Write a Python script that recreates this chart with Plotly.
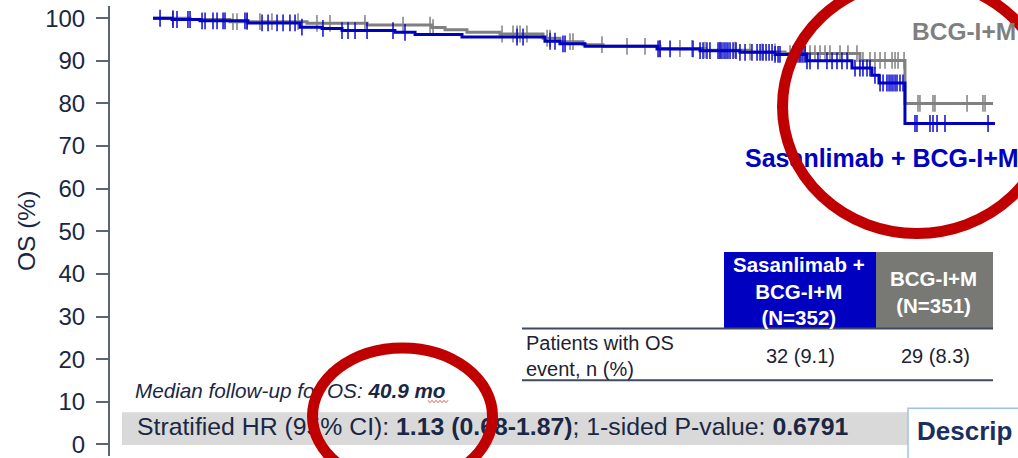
import plotly.graph_objects as go

# ---------------- data ----------------
# Kaplan-Meier steps: time (months) and overall survival (%)
months_sas = [0, 1.27, 3.13, 6.33, 9.8, 11.27, 12.6, 16.13, 17.47, 20.6, 26.13, 27.13,
              28.8, 33.6, 36.47, 39.13, 41.47, 43.6, 46.6, 47.93, 48.4, 50.13, 56.13]
os_sas = [100, 99.7, 99.4, 98.9, 97.9, 97.6, 97.1, 96.7, 96.2, 95.6, 94.6, 94.0,
          93.4, 92.8, 92.4, 92.0, 91.5, 90.0, 88.3, 86.6, 84.8, 75.3, 75.3]

months_bcg = [0, 2.47, 5.13, 10.27, 14.27, 18.6, 19.47, 20.93, 23.13, 26.0, 27.13,
              28.67, 30.0, 33.8, 36.8, 39.8, 42.13, 47.13, 50.13, 56.0]
os_bcg = [100, 99.7, 99.2, 98.8, 98.4, 97.8, 97.3, 96.7, 96.3, 95.3, 94.5,
          93.8, 93.4, 92.9, 92.5, 92.1, 91.7, 90.1, 80.0, 80.0]

# censoring times (months)
cens_sas = [0.47, 1.33, 1.6, 2.33, 2.47, 3.27, 3.47, 4.0, 4.27, 4.67, 4.8, 6.13, 6.27,
            7.27, 7.67, 8.27, 8.67, 9.13, 9.47, 9.93, 11.33, 12.6, 13.0, 13.47, 14.27,
            16.0, 16.8, 24.27, 24.67, 26.47, 26.8, 27.33, 27.47, 33.67, 33.8, 34.47,
            36.0, 36.47, 36.67, 36.93, 37.13, 37.67, 37.8, 37.93, 38.07, 38.2, 38.33,
            38.47, 38.67, 38.87, 39.13, 39.47, 39.93, 40.27, 40.47, 40.67, 40.87, 41.07,
            41.27, 41.47, 41.67, 41.8, 42.67, 42.8, 42.93, 43.07, 43.2, 43.33, 43.47,
            43.6, 43.8, 44.33, 44.93, 45.27, 45.6, 45.93, 46.27, 46.8, 47.13, 47.33,
            47.6, 47.8, 48.13, 48.47, 48.67, 48.93, 49.07, 49.2, 49.33, 49.47, 49.6,
            49.8, 50.0, 50.8, 50.93, 51.8, 52.0, 52.27, 52.8, 55.67]
cens_bcg = [1.33, 5.33, 5.6, 6.27, 7.13, 7.93, 9.67, 10.93, 11.8, 14.13, 16.67, 18.47,
            18.67, 23.27, 24.0, 24.27, 24.47, 24.93, 26.27, 26.47, 27.8, 28.0, 29.93,
            31.6, 32.8, 33.8, 35.13, 35.93, 36.8, 37.8, 38.8, 39.8, 40.6, 41.47, 42.47,
            42.8, 43.13, 43.47, 43.8, 44.13, 44.47, 44.8, 45.13, 45.8, 46.33, 46.93,
            47.33, 47.8, 48.13, 48.47, 48.8, 49.27, 49.47, 49.67, 50.07, 51.0, 51.13,
            52.0, 52.13, 54.27, 55.33, 55.47]

y_ticks = [0, 10, 20, 30, 40, 50, 60, 70, 80, 90, 100]

arm_names = ["Sasanlimab + BCG-I+M", "BCG-I+M"]
arm_n = [352, 351]
os_events = [32, 29]
os_event_pct = [9.1, 8.3]
hr, hr_lo, hr_hi, p_one_sided = 1.13, 0.68, 1.87, 0.6791
median_fu = 40.9

# ---------------- styling ----------------
BLUE = "#0000C0"
GRAY = "#808080"
NAVY = "#1A2744"
RED = "#C00000"
FONT = "Arial, Liberation Sans, sans-serif"

FIG_W, FIG_H = 1018, 458
M_L, M_T = 110, 6
PLOT_W, PLOT_H = FIG_W - M_L, FIG_H - M_T
X0_PX, X_SCALE = 153, 15.0      # pixel of month 0, pixels per month
Y0_PX, Y_SCALE = 446.3, 4.28    # pixel of 0 %, pixels per percent


def px(x):
    return (x - M_L) / PLOT_W


def py(y):
    return (FIG_H - y) / PLOT_H


def dx(x):
    return (x - X0_PX) / X_SCALE


def dy(y):
    return (Y0_PX - y) / Y_SCALE


def km_at(ts, ss, t):
    v = ss[0]
    for ti, si in zip(ts, ss):
        if ti <= t:
            v = si
        else:
            break
    return v


fig = go.Figure()

# survival curves
fig.add_trace(go.Scatter(x=months_bcg, y=os_bcg, mode="lines", line_shape="hv",
                         line=dict(color=GRAY, width=3), hoverinfo="skip"))
fig.add_trace(go.Scatter(x=cens_bcg, y=[km_at(months_bcg, os_bcg, t) for t in cens_bcg],
                         mode="markers", hoverinfo="skip",
                         marker=dict(symbol="line-ns", size=12,
                                     line=dict(color=GRAY, width=1.5))))
fig.add_trace(go.Scatter(x=months_sas, y=os_sas, mode="lines", line_shape="hv",
                         line=dict(color=BLUE, width=3), hoverinfo="skip"))
fig.add_trace(go.Scatter(x=cens_sas, y=[km_at(months_sas, os_sas, t) for t in cens_sas],
                         mode="markers", hoverinfo="skip",
                         marker=dict(symbol="line-ns", size=12,
                                     line=dict(color="rgba(0,0,205,0.9)", width=1.6))))

# texts that sit underneath the highlight ellipses
fig.add_trace(go.Scatter(
    x=[dx(745)], y=[dy(161)], mode="text", textposition="middle right",
    text=[f"<b>{arm_names[0]}</b>"], hoverinfo="skip",
    textfont=dict(family=FONT, size=25, color=BLUE), cliponaxis=False))
fig.add_trace(go.Scatter(
    x=[dx(135)], y=[dy(395)], mode="text", textposition="middle right",
    text=[f"<i>Median follow-up for OS: <b>{median_fu} mo</b></i>"], hoverinfo="skip",
    textfont=dict(family=FONT, size=20.7, color=NAVY), cliponaxis=False))
fig.add_trace(go.Scatter(
    x=[dx(137)], y=[dy(431)], mode="text", textposition="middle right",
    text=[f"Stratified HR (95% CI): <b>{hr:.2f} ({hr_lo:.2f}-{hr_hi:.2f})</b>; "
          f"1-sided P-value: <b>{p_one_sided}</b>"], hoverinfo="skip",
    textfont=dict(family=FONT, size=24.8, color=NAVY), cliponaxis=False))

shapes = []
# HR band and the partially visible box at the lower right
shapes.append(dict(type="rect", xref="paper", yref="paper", layer="below",
                   x0=px(122), x1=px(1018), y0=py(447), y1=py(414),
                   fillcolor="#D9D9D9", line=dict(width=0)))
shapes.append(dict(type="rect", xref="paper", yref="paper", layer="below",
                   x0=px(908), x1=px(1030), y0=py(470), y1=py(410),
                   fillcolor="white", line=dict(color="#9DC3E6", width=1.5)))

# event table
shapes.append(dict(type="rect", xref="paper", yref="paper", layer="below",
                   x0=px(724), x1=px(876), y0=py(330), y1=py(253),
                   fillcolor=BLUE, line=dict(width=0)))
shapes.append(dict(type="rect", xref="paper", yref="paper", layer="below",
                   x0=px(876), x1=px(993), y0=py(330), y1=py(253),
                   fillcolor="#787874", line=dict(width=0)))
for yline in (330, 382):
    shapes.append(dict(type="line", xref="paper", yref="paper", layer="below",
                       x0=px(522), x1=px(993), y0=py(yline), y1=py(yline),
                       line=dict(color="#3E4A60", width=2)))

# spell-check squiggle under the follow-up value
sq = []
for i in range(11):
    xx = 428 + i * 2
    yy = 402 if i % 2 == 0 else 404.5
    sq.append(f"{'M' if i == 0 else 'L'} {px(xx):.5f} {py(yy):.5f}")
shapes.append(dict(type="path", xref="paper", yref="paper", layer="above",
                   path=" ".join(sq), line=dict(color="#E06666", width=1)))

# highlight ellipses
shapes.append(dict(type="circle", xref="paper", yref="paper", layer="above",
                   x0=px(917 - 134.5), x1=px(917 + 134.5),
                   y0=py(107 + 127.5), y1=py(107 - 127.5),
                   line=dict(color=RED, width=11)))
shapes.append(dict(type="circle", xref="paper", yref="paper", layer="above",
                   x0=px(402.5 - 90), x1=px(402.5 + 90),
                   y0=py(418 + 68.5), y1=py(418 - 68.5),
                   line=dict(color=RED, width=11)))

annotations = []


def ann(text, x, y, size, color, xanchor="left", bold=False, align="left"):
    annotations.append(dict(
        text=f"<b>{text}</b>" if bold else text, xref="paper", yref="paper",
        x=px(x), y=py(y), xanchor=xanchor, yanchor="middle", showarrow=False,
        align=align, font=dict(family=FONT, size=size, color=color)))


ann(arm_names[1], 1018, 32, 24.5, "#7F7F7F", xanchor="right", bold=True)
ann(f"Sasanlimab +<br>BCG-I+M<br>(N={arm_n[0]})", 799, 292.5, 20.5, "white",
    xanchor="center", bold=True, align="center")
ann(f"{arm_names[1]}<br>(N={arm_n[1]})", 933, 293, 20.5, "white",
    xanchor="center", bold=True, align="center")
ann("Patients with OS<br>event, n (%)", 524, 357.5, 20, "#1C2233")
ann(f"{os_events[0]} ({os_event_pct[0]})", 800, 358, 20, "#1C2233", xanchor="center")
ann(f"{os_events[1]} ({os_event_pct[1]})", 935, 358, 20, "#1C2233", xanchor="center")
ann("Descrip", 915, 433, 26, "#1B2F5E", bold=True)

# y-axis title
annotations.append(dict(text="OS (%)", textangle=-90, xref="paper", yref="paper",
                        x=px(26), y=py(232), xanchor="center", yanchor="middle",
                        showarrow=False, font=dict(family=FONT, size=24.5, color=NAVY)))

fig.update_layout(
    width=FIG_W, height=FIG_H,
    margin=dict(l=M_L, r=0, t=M_T, b=0, pad=0),
    paper_bgcolor="white", plot_bgcolor="white",
    showlegend=False,
    shapes=shapes, annotations=annotations,
    xaxis=dict(range=[dx(M_L), dx(FIG_W)], visible=False, fixedrange=True),
    yaxis=dict(range=[dy(FIG_H), dy(M_T)], tickvals=y_ticks,
               ticktext=[str(v) for v in y_ticks],
               showgrid=False, zeroline=False, showline=True,
               linecolor="#5B6579", linewidth=2,
               ticks="outside", ticklen=12, tickwidth=2, tickcolor="#5B6579",
               tickfont=dict(family=FONT, size=24, color=NAVY),
               ticklabelstandoff=6, ticklabeloverflow="allow", fixedrange=True),
)

fig.write_html("out.html")
